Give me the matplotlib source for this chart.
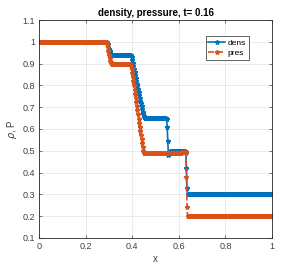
import numpy as np
import matplotlib.pyplot as plt

plt.rcParams['font.family'] = ['Liberation Sans', 'DejaVu Sans']

# grid of 401 points on [0, 1]
x = np.linspace(0.0, 1.0, 401)

# density, plateau runs + transition points
dens = ([1.0] * 116
        + [0.999, 0.995, 0.988, 0.978, 0.967, 0.957, 0.950, 0.946, 0.943, 0.941, 0.940, 0.940, 0.940]
        + [0.940] * 29
        + [0.938, 0.930, 0.918, 0.903, 0.888, 0.873, 0.860, 0.847, 0.834, 0.821, 0.808, 0.795, 0.782,
           0.769, 0.756, 0.743, 0.730, 0.717, 0.704, 0.692, 0.680, 0.669, 0.660, 0.654, 0.651]
        + [0.650] * 36
        + [0.647, 0.608, 0.545, 0.482, 0.487, 0.494, 0.498]
        + [0.500] * 26
        + [0.492, 0.420, 0.330, 0.300]
        + [0.300] * 145)

pres = ([1.0] * 116
        + [0.998, 0.990, 0.976, 0.958, 0.940, 0.925, 0.913, 0.906, 0.902, 0.900]
        + [0.900] * 31
        + [0.898, 0.890, 0.875, 0.857, 0.838, 0.819, 0.800, 0.781, 0.762, 0.743, 0.724, 0.705,
           0.686, 0.667, 0.648, 0.629, 0.610, 0.591, 0.572, 0.553, 0.535, 0.517, 0.501, 0.493]
        + [0.490] * 63
        + [0.491, 0.492, 0.493, 0.494, 0.495, 0.496, 0.496, 0.495]
        + [0.490, 0.380, 0.240]
        + [0.200] * 146)

xticks = [0, 0.2, 0.4, 0.6, 0.8, 1]
yticks = [0.1, 0.2, 0.3, 0.4, 0.5, 0.6, 0.7, 0.8, 0.9, 1.0, 1.1]
ylabels = ['0.1', '0.2', '0.3', '0.4', '0.5', '0.6', '0.7', '0.8', '0.9', '1', '1.1']
xlabels = ['0', '0.2', '0.4', '0.6', '0.8', '1']

blue = '#0072BD'
orange = '#D95319'
axc = '#262626'

fig = plt.figure(figsize=(3.0, 2.67), dpi=100)
ax = fig.add_axes([0.13, 0.109, 0.777, 0.816])

ax.plot(x, dens, '-', color=blue, lw=1.2, marker='*', ms=3.2, mew=1.0, label='dens')
ax.plot(x, pres, '--', color=orange, lw=1.2, marker='*', ms=3.2, mew=1.0, label='pres')

ax.set_xlim(0, 1)
ax.set_ylim(0.1, 1.1)
ax.set_xticks(xticks)
ax.set_xticklabels(xlabels)
ax.set_yticks(yticks)
ax.set_yticklabels(ylabels)
ax.grid(True, color='#e6e6e6', lw=0.6)
ax.set_axisbelow(True)
ax.tick_params(direction='in', length=2.5, width=0.5, top=True, right=True,
               labelsize=6.5, colors='#404040', pad=3)
for s in ax.spines.values():
    s.set_color(axc)
    s.set_linewidth(0.6)

ax.set_title('density, pressure, t= 0.16', fontsize=7, fontweight='bold', pad=3)
ax.set_xlabel('x', fontsize=7, color='#404040', labelpad=2)
ax.set_ylabel(r'$\rho$, P', fontsize=7, color='#404040', labelpad=2)

leg = ax.legend(loc='upper right', bbox_to_anchor=(0.918, 0.945), fontsize=6,
                fancybox=False, framealpha=1, edgecolor=axc, borderpad=0.35,
                handlelength=2.0, handletextpad=0.3, labelspacing=0.25)
leg.get_frame().set_linewidth(0.5)

fig.savefig('out.png', dpi=100)
